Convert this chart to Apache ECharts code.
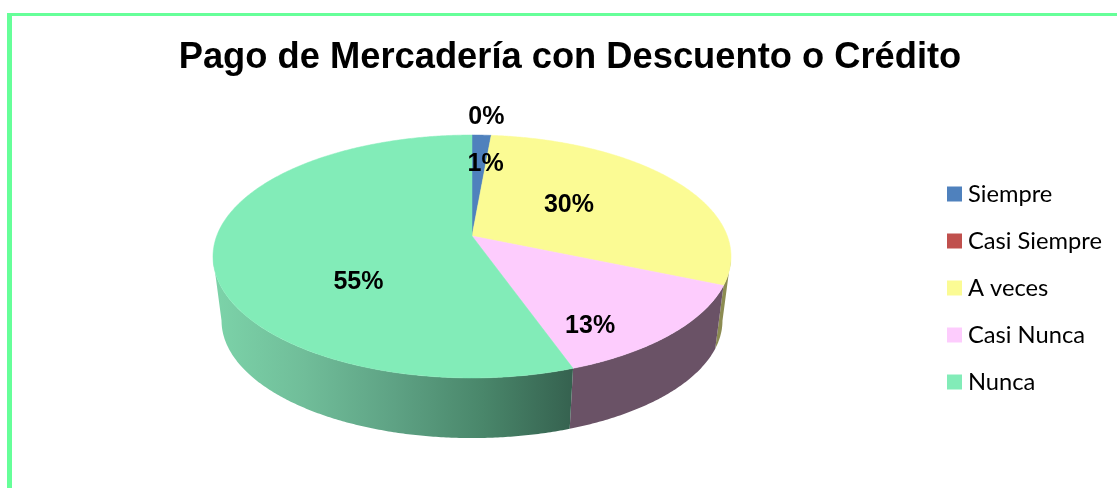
<!DOCTYPE html>
<html><head><meta charset="utf-8">
<style>html,body{margin:0;padding:0;background:#fff}#c{width:1117px;height:488px}</style>
<script src="https://cdn.jsdelivr.net/npm/echarts@6/dist/echarts.min.js"></script>
</head><body><div id="c"></div>
<script>
const chartTitle = 'Pago de Mercadería con Descuento o Crédito';
const categories = ['Siempre', 'Casi Siempre', 'A veces', 'Casi Nunca', 'Nunca'];
const values = [1.4, 0.0, 30.0, 13.2, 55.4];
const topColors = ['#4F81BD', '#C0504D', '#FBFB94', '#FDCCFD', '#82ECB8'];
const wallColors = ['#2F4D71', '#73302E', '#8C8C52', '#6A5266', null];
const labelNudges = [[8, -13], [3, -60], [-18, 1], [15, 39], [27, 35]];

// perspective model of the tilted disc
const CX = 472, CY = 236, K = 255.3, A = 78.2, C = -0.1687;
const VPY = 2200, S = 0.967; // extrusion towards a vanishing point
const LABEL_R = 0.55;
const total = values.reduce((a, b) => a + b, 0);
const starts = values.map((_, i) => values.slice(0, i).reduce((a, b) => a + b, 0) / total * 360);
const tangent = Math.acos(C) * 180 / Math.PI;

function proj(deg, r) {
  const th = deg * Math.PI / 180, X = r * Math.sin(th), t = -r * Math.cos(th), d = 1 + C * t;
  return [CX + K * X / d, (A * t + CY) / d];
}
function drop(p) { return [CX + (p[0] - CX) * S, VPY - (VPY - p[1]) * S]; }
function arc(a, b) {
  const pts = [], n = Math.max(1, Math.ceil((b - a) / 0.5));
  for (let i = 0; i <= n; i++) pts.push(proj(a + (b - a) * i / n, 1));
  return pts;
}
const wallGradient = new echarts.graphic.LinearGradient(215, 0, 574, 0, [
  { offset: 0, color: '#7CD3A9' }, { offset: 0.25, color: '#70BD99' },
  { offset: 0.5, color: '#5EA284' }, { offset: 0.75, color: '#49866A' }, { offset: 1, color: '#35614F' }
], true);

const topSeries = categories.map((name, i) => ({
  type: 'custom', name, coordinateSystem: 'none', silent: true, z: 3,
  itemStyle: { color: topColors[i] }, data: [[values[i]]],
  renderItem(params, api) {
    const span = api.value(0) / total * 360;
    if (span <= 0) return { type: 'group', children: [] };
    return { type: 'polygon', shape: { points: [[CX, CY]].concat(arc(starts[i], starts[i] + span)) },
      style: { fill: topColors[i], stroke: topColors[i], lineWidth: 0.5 } };
  }
}));
const wallSeries = {
  type: 'custom', name: 'walls', coordinateSystem: 'none', silent: true, z: 2,
  data: values.map(v => [v]),
  renderItem(params, api) {
    const i = params.dataIndex, a = Math.max(starts[i], tangent),
      b = Math.min(starts[i] + api.value(0) / total * 360, 360 - tangent);
    if (b <= a) return { type: 'group', children: [] };
    const up = arc(a, b), down = up.map(drop).reverse();
    return { type: 'polygon', shape: { points: up.concat(down) },
      style: { fill: wallColors[i] || wallGradient } };
  }
};
const labelSeries = {
  type: 'custom', name: 'labels', coordinateSystem: 'none', silent: true, z: 5,
  data: values.map(v => [v]),
  renderItem(params, api) {
    const i = params.dataIndex, mid = starts[i] + api.value(0) / total * 180, p = proj(mid, LABEL_R);
    return { type: 'text', style: { text: Math.round(api.value(0)) + '%',
      x: p[0] + labelNudges[i][0], y: p[1] + labelNudges[i][1], align: 'center', verticalAlign: 'middle',
      fill: '#000', font: 'bold 25px "Liberation Sans"' } };
  }
};
const chart = echarts.init(document.getElementById('c'), null, { renderer: 'canvas' });
chart.setOption({
  animation: false, backgroundColor: '#fff',
  title: { text: chartTitle, left: 565, top: 35, textAlign: 'center',
    textStyle: { fontFamily: 'Liberation Sans', fontWeight: 'bold', fontSize: 36.3, color: '#000' } },
  legend: { data: categories, orient: 'vertical', left: 942, top: 177, icon: 'rect',
    itemWidth: 15, itemHeight: 15, itemGap: 23, selectedMode: false,
    textStyle: { fontFamily: 'Lato', fontSize: 23.7, color: '#000', padding: [0, 0, 0, 1] } },
  graphic: [
    { type: 'rect', shape: { x: 7, y: 13, width: 1110, height: 3 }, style: { fill: '#66FF99' }, silent: true },
    { type: 'rect', shape: { x: 7, y: 13, width: 5, height: 475 }, style: { fill: '#66FF99' }, silent: true }
  ],
  series: [wallSeries].concat(topSeries, [labelSeries])
});
</script></body></html>
